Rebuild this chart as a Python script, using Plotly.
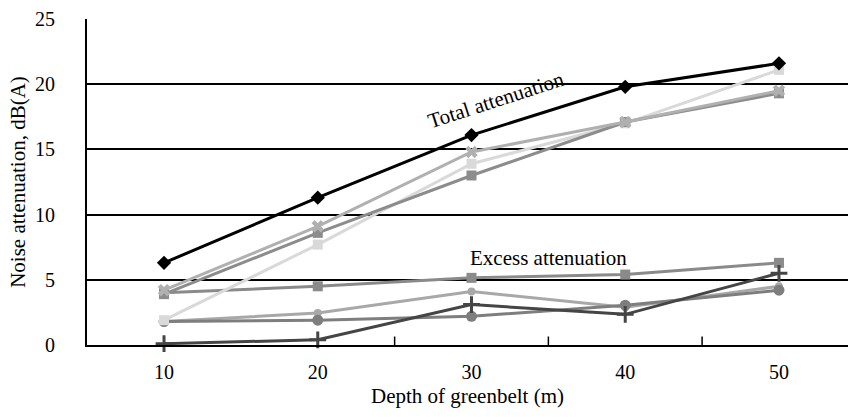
import plotly.graph_objects as go

depth = [10, 20, 30, 40, 50]

# Total attenuation group
total_black = [6.3, 11.3, 16.1, 19.8, 21.6]
total_x = [4.2, 9.1, 14.8, 17.1, 19.5]
total_square = [3.9, 8.6, 13.0, 17.1, 19.3]
total_light = [1.9, 7.7, 13.9, 17.0, 21.1]

# Excess attenuation group
excess_square = [4.0, 4.5, 5.15, 5.4, 6.3]
excess_light = [1.8, 2.45, 4.1, 2.9, 4.5]
excess_circle = [1.8, 1.9, 2.2, 3.05, 4.2]
excess_plus = [0.1, 0.4, 3.1, 2.35, 5.5]

y_ticks = [0, 5, 10, 15, 20, 25]
x_minor_ticks = [25, 35, 45]

FONT = "Liberation Serif"

fig = go.Figure()

def add(y, color, symbol, size=9, width=3):
    fig.add_trace(go.Scatter(
        x=depth, y=y, mode="lines+markers",
        line=dict(color=color, width=width),
        marker=dict(symbol=symbol, size=size, color=color),
        showlegend=False, cliponaxis=False))

add(excess_light, "#a8a8a8", "circle", 8)
add(excess_circle, "#7e7e7e", "circle", 11)
add(excess_square, "#8a8a8a", "square", 10)
add(excess_plus, "#454545", "cross-thin", 12)
add(total_light, "#d9d9d9", "square", 10)
add(total_square, "#8c8c8c", "square", 10)
add(total_x, "#b0b0b0", "x", 11)
add(total_black, "#000000", "diamond", 11)

fig.data[3].marker.line = dict(color="#454545", width=3)

for xv in x_minor_ticks:
    fig.add_shape(type="line", xref="x", yref="y", x0=xv, x1=xv, y0=0, y1=0.65,
                  line=dict(color="black", width=1.5))

fig.add_annotation(x=31.6, y=18.8, text="Total attenuation", showarrow=False,
                   textangle=-18, font=dict(family=FONT, size=21, color="black"))
fig.add_annotation(x=35.0, y=6.67, text="Excess attenuation", showarrow=False,
                   font=dict(family=FONT, size=21, color="black"))

fig.update_layout(
    width=848, height=417,
    margin=dict(l=87, r=0, t=19, b=72, autoexpand=False),
    plot_bgcolor="white", paper_bgcolor="white",
    font=dict(family=FONT, size=20, color="black"),
    xaxis=dict(range=[4.99, 54.49], tickvals=depth, ticktext=[str(d) for d in depth],
               showgrid=False, zeroline=False, showline=True, linecolor="black",
               linewidth=2, ticks="", tickfont=dict(size=20), automargin=False,
               ticklabelstandoff=8,
               title=dict(text="Depth of greenbelt (m)", font=dict(size=21), standoff=6)),
    yaxis=dict(range=[0, 25], tickvals=y_ticks, showgrid=True, gridcolor="black",
               gridwidth=1.5, zeroline=False, showline=True, linecolor="black",
               linewidth=2, ticks="", ticklabelstandoff=26, tickfont=dict(size=20),
               automargin=False,
               title=dict(text="Noise attenuation, dB(A)", font=dict(size=21), standoff=4)),
)

fig.write_html("out.html", config={"displayModeBar": False},
               post_script="document.body.style.margin='0';document.body.style.overflow='hidden';")
